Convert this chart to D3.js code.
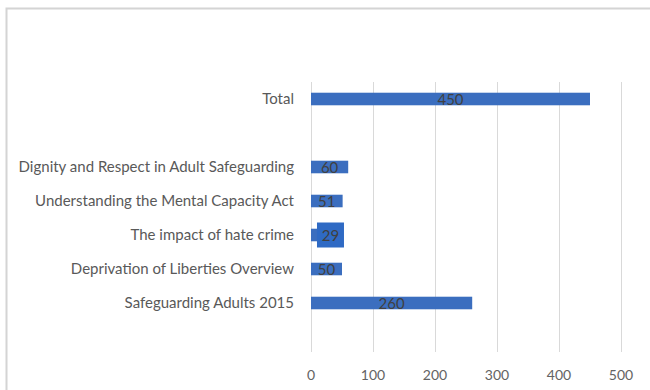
<html>
<head>
<script src="https://cdnjs.cloudflare.com/ajax/libs/d3/7.8.5/d3.min.js"></script>
<style>
  body { margin: 0; background: #fff; }
  text { font-family: Lato, "Open Sans", "Liberation Sans", sans-serif; }
</style>
</head>
<body>
<svg id="chart" width="650" height="390"></svg>
<script>
// categories top to bottom, blanks are empty rows in the source sheet
var categories = ['Total', '', 'Dignity and Respect in Adult Safeguarding',
  'Understanding the Mental Capacity Act', 'The impact of hate crime',
  'Deprivation of Liberties Overview', 'Safeguarding Adults 2015', ''];
var values = [450, null, 60, 51, 29, 50, 260, null];
var tickValues = [0, 100, 200, 300, 400, 500];

var svg = d3.select('#chart');

// outer chart frame (runs off the right and bottom edges)
svg.append('rect')
  .attr('x', 6.5).attr('y', 8.5)
  .attr('width', 700).attr('height', 500)
  .attr('fill', '#fff')
  .attr('stroke', '#d4d4d4')
  .attr('stroke-width', 2);

var x = d3.scaleLinear().domain([0, 500]).range([311, 621]);
var y = d3.scaleBand().domain(d3.range(categories.length)).range([82, 354]).paddingInner(0.63).paddingOuter(0.315);

// gridlines
svg.append('g').selectAll('line')
  .data(tickValues)
  .enter().append('line')
  .attr('x1', function (d) { return Math.round(x(d)) + 0.5; })
  .attr('x2', function (d) { return Math.round(x(d)) + 0.5; })
  .attr('y1', 82).attr('y2', 352)
  .attr('stroke', '#d9d9d9')
  .attr('stroke-width', 1);

// tick labels
svg.append('g').selectAll('text')
  .data(tickValues)
  .enter().append('text')
  .attr('x', function (d) { return x(d); })
  .attr('y', 380)
  .attr('text-anchor', 'middle')
  .attr('font-size', 14)
  .attr('fill', '#636363')
  .text(function (d) { return d; });

// category labels
svg.append('g').selectAll('text')
  .data(categories)
  .enter().append('text')
  .attr('x', 294)
  .attr('y', function (d, i) { return y(i) + y.bandwidth() / 2; })
  .attr('dy', '0.36em')
  .attr('text-anchor', 'end')
  .attr('font-size', 15)
  .attr('fill', '#595959')
  .text(function (d) { return d; });

var rows = values.map(function (v, i) { return { i: i, v: v }; })
  .filter(function (d) { return d.v !== null; });

// bars
svg.append('g').selectAll('rect')
  .data(rows)
  .enter().append('rect')
  .attr('x', x(0))
  .attr('y', function (d) { return y(d.i); })
  .attr('width', function (d) { return x(d.v) - x(0); })
  .attr('height', y.bandwidth())
  .attr('fill', '#3b6ebf');

// the hate crime label has a filled box in the original
var boxed = rows.filter(function (d) { return d.v === 29; });
svg.append('g').selectAll('rect')
  .data(boxed)
  .enter().append('rect')
  .attr('x', function (d) { return x(d.v) - 12; })
  .attr('y', function (d) { return y(d.i) + y.bandwidth() / 2 - 12.5; })
  .attr('width', 27)
  .attr('height', 25)
  .attr('fill', '#2f6ac4');

// data labels
svg.append('g').selectAll('text')
  .data(rows)
  .enter().append('text')
  .attr('x', function (d) { return d.v === 29 ? x(d.v) + 1.5 : (x(0) + x(d.v)) / 2; })
  .attr('y', function (d) { return y(d.i) + y.bandwidth() / 2; })
  .attr('dy', '0.38em')
  .attr('text-anchor', 'middle')
  .attr('font-size', 15)
  .attr('fill', '#404040')
  .text(function (d) { return d.v; });
</script>
</body>
</html>
